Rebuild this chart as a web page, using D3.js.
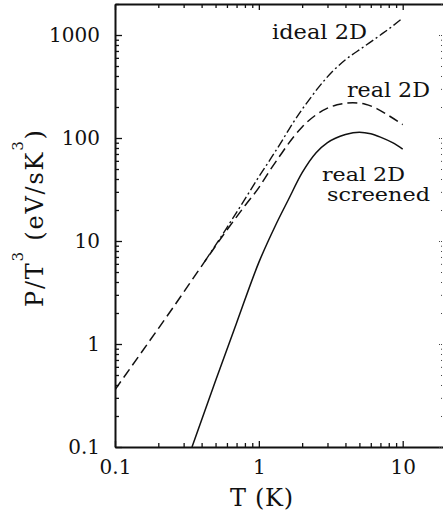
<!DOCTYPE html>
<html>
<head>
<meta charset="utf-8">
<script src="https://cdn.jsdelivr.net/npm/d3@7"></script>
<style>
  html, body { margin: 0; padding: 0; background: #fff; }
  svg { display: block; }
  text { font-family: "DejaVu Serif", serif; fill: #111; }
</style>
</head>
<body>
<svg id="chart" width="443" height="516"></svg>
<script>
// ---- data ----
const idealT = [0.42, 0.6, 0.8, 1.0, 1.2, 1.47, 1.64, 2.0, 2.15, 2.6, 3.26, 4.0, 5.3, 7.0, 8.5, 10];
const idealP = [6.3, 13.5, 25.5, 42, 62, 97, 125, 190, 218, 310, 445, 575, 760, 1000, 1220, 1460];

const realT = [0.1, 0.15, 0.25, 0.42, 0.6, 0.8, 1.0, 1.2, 1.45, 1.72, 2.0, 2.5, 3.0, 3.5, 4.5, 5.5, 6.6, 8.0, 10];
const realP = [0.36, 0.80, 2.2, 6.3, 12.8, 22, 33, 49, 72, 100, 128, 168, 195, 210, 220, 213, 193, 165, 135];

const screenT = [0.343, 0.5, 0.7, 1.0, 1.3, 1.6, 2.0, 2.5, 3.0, 4.0, 5.0, 6.0, 7.0, 8.5, 10];
const screenP = [0.1, 0.44, 1.6, 6.2, 14, 25, 46, 72, 90, 108, 114, 110, 102, 90, 78];

const xMajor = [0.1, 1, 10];
const xMinor = [0.2, 0.3, 0.4, 0.5, 0.6, 0.7, 0.8, 0.9, 2, 3, 4, 5, 6, 7, 8, 9];
const yMajor = [0.1, 1, 10, 100, 1000];
const yMinor = [0.2,0.3,0.4,0.5,0.6,0.7,0.8,0.9, 2,3,4,5,6,7,8,9, 20,30,40,50,60,70,80,90, 200,300,400,500,600,700,800,900, 2000];
const xTickLabels = ["0.1", "1", "10"];
const yTickLabels = ["0.1", "1", "10", "100", "1000"];

// ---- layout ----
const svg = d3.select("#chart");
const mLeft = 115, mRight = 446, mTop = 4, mBottom = 447;
const x = d3.scaleLog().domain([0.1, 20]).range([mLeft, mRight]);
const y = d3.scaleLog().domain([0.1, 2000]).range([mBottom, mTop]);

svg.append("defs").append("clipPath").attr("id", "clip")
  .append("rect").attr("x", mLeft).attr("y", mTop).attr("width", mRight - mLeft).attr("height", mBottom - mTop);

function styleAxis(g, width) {
  g.selectAll("path.domain").attr("stroke", "#111").attr("stroke-width", width);
  g.selectAll(".tick line").attr("stroke", "#111").attr("stroke-width", 1.3);
}

// Left axis
const gl = svg.append("g").attr("transform", `translate(${mLeft},0)`)
  .call(d3.axisLeft(y).tickValues(yMajor).tickSize(-7).tickSizeOuter(0).tickPadding(15)
    .tickFormat((d, i) => yTickLabels[i]));
styleAxis(gl, 2);
gl.selectAll("text").style("font-size", "20px").style("font-family", "DejaVu Serif").attr("fill", "#111");
const glm = svg.append("g").attr("transform", `translate(${mLeft},0)`)
  .call(d3.axisLeft(y).tickValues(yMinor).tickSize(-4).tickSizeOuter(0).tickFormat(""));
glm.select("path.domain").remove();
styleAxis(glm, 2);

// Bottom axis
const gb = svg.append("g").attr("transform", `translate(0,${mBottom})`)
  .call(d3.axisBottom(x).tickValues(xMajor).tickSize(-6).tickSizeOuter(0).tickPadding(13)
    .tickFormat((d, i) => xTickLabels[i]));
styleAxis(gb, 2);
gb.selectAll("text").style("font-size", "20px").style("font-family", "DejaVu Serif").attr("fill", "#111");
const gbm = svg.append("g").attr("transform", `translate(0,${mBottom})`)
  .call(d3.axisBottom(x).tickValues(xMinor).tickSize(-4).tickSizeOuter(0).tickFormat(""));
gbm.select("path.domain").remove();
styleAxis(gbm, 2);

// Top axis
const gt = svg.append("g").attr("transform", `translate(0,${mTop})`)
  .call(d3.axisTop(x).tickValues(xMajor).tickSize(-6).tickSizeOuter(0).tickFormat(""));
styleAxis(gt, 2);
const gtm = svg.append("g").attr("transform", `translate(0,${mTop})`)
  .call(d3.axisTop(x).tickValues(xMinor).tickSize(-4).tickSizeOuter(0).tickFormat(""));
gtm.select("path.domain").remove();
styleAxis(gtm, 2);

// Right axis (mostly outside the frame)
const gr = svg.append("g").attr("transform", `translate(${mRight},0)`)
  .call(d3.axisRight(y).tickValues(yMajor).tickSize(-8).tickSizeOuter(0).tickFormat(""));
styleAxis(gr, 2);
gr.selectAll(".tick line").attr("stroke", "#444").attr("stroke-width", 1).attr("stroke-dasharray", "1,1");
const grm = svg.append("g").attr("transform", `translate(${mRight},0)`)
  .call(d3.axisRight(y).tickValues(yMinor).tickSize(-5).tickSizeOuter(0).tickFormat(""));
grm.select("path.domain").remove();
grm.selectAll(".tick line").attr("stroke", "#444").attr("stroke-width", 1).attr("stroke-dasharray", "1,1");

// ---- curves ----
const line = d3.line().x(d => x(d[0])).y(d => y(d[1])).curve(d3.curveMonotoneX);
const plot = svg.append("g").attr("clip-path", "url(#clip)");

plot.append("path").datum(d3.zip(realT, realP))
  .attr("d", line).attr("fill", "none").attr("stroke", "#111")
  .attr("stroke-width", 1.5).attr("stroke-dasharray", "10,5");
plot.append("path").datum(d3.zip(idealT, idealP))
  .attr("d", line).attr("fill", "none").attr("stroke", "#111")
  .attr("stroke-width", 1.4).attr("stroke-dasharray", "9,3,2,3");
plot.append("path").datum(d3.zip(screenT, screenP))
  .attr("d", line).attr("fill", "none").attr("stroke", "#111")
  .attr("stroke-width", 1.5);

// ---- series labels ----
function label(txt, x0, base, w, fs) {
  svg.append("text").attr("x", x0).attr("y", base).text(txt)
    .style("font-size", (fs || 20) + "px").attr("textLength", w).attr("lengthAdjust", "spacingAndGlyphs");
}
label("ideal 2D", 272, 39, 95);
label("real 2D", 347, 97, 83);
label("real 2D", 322, 180.5, 83, 18);
label("screened", 327, 201, 103, 18);

// ---- axis titles ----
svg.append("text").attr("x", 230).attr("y", 506)
  .attr("textLength", 63).attr("lengthAdjust", "spacing")
  .style("font-size", "24px").text("T (K)");

const yt = svg.append("text").attr("transform", "translate(43,307) rotate(-90)")
  .attr("textLength", 177).attr("lengthAdjust", "spacing").style("font-size", "24px");
yt.append("tspan").text("P/T");
yt.append("tspan").attr("dy", -20).style("font-size", "15px").text("3");
yt.append("tspan").attr("dy", 20).text(" (eV/sK");
yt.append("tspan").attr("dy", -20).style("font-size", "15px").text("3");
yt.append("tspan").attr("dy", 20).text(")");
</script>
</body>
</html>
